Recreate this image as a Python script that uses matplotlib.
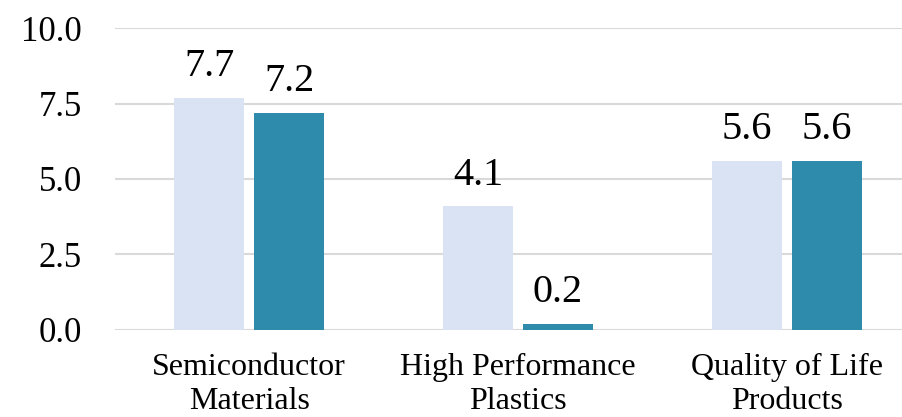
import matplotlib
matplotlib.use("Agg")
import matplotlib.pyplot as plt
import numpy as np

categories = ["Semiconductor\nMaterials", "High Performance\nPlastics", "Quality of Life\nProducts"]
series_a = [7.7, 4.1, 5.6]
series_b = [7.2, 0.2, 5.6]
yticks = [0.0, 2.5, 5.0, 7.5, 10.0]

plt.rcParams['font.family'] = ['Liberation Serif', 'DejaVu Serif']

fig = plt.figure(figsize=(9.03, 4.17), dpi=100)
ax = fig.add_axes([0.1274, 0.2094, 0.8726, 0.7227])

x = np.arange(len(categories))
w = 0.26
off = 0.149
b1 = ax.bar(x - off, series_a, width=w, color="#DAE3F3", zorder=3)
b2 = ax.bar(x + off, series_b, width=w, color="#2E8BAC", zorder=3)

for bars, vals in ((b1, series_a), (b2, series_b)):
    for r, v in zip(bars, vals):
        ax.annotate(f"{v:.1f}", (r.get_x() + r.get_width() / 2, r.get_height()),
                    xytext=(0, 9), textcoords="offset points",
                    ha="center", va="bottom", fontsize=29, color="#000000")

ax.set_xlim(-0.499, 2.433)
ax.set_ylim(0, 10)
ax.set_yticks(yticks)
ax.set_yticklabels([f"{t:.1f}" for t in yticks], fontsize=25)
ax.set_xticks(x)
ax.set_xticklabels(categories, fontsize=23, linespacing=1.2)
ax.tick_params(axis="y", length=0, pad=24)
ax.tick_params(axis="x", length=0, pad=17)
ax.yaxis.grid(True, color="#D9D9D9", linewidth=1.5, zorder=0)
ax.set_axisbelow(True)
for s in ax.spines.values():
    s.set_visible(False)

fig.savefig("out.png", dpi=100)
